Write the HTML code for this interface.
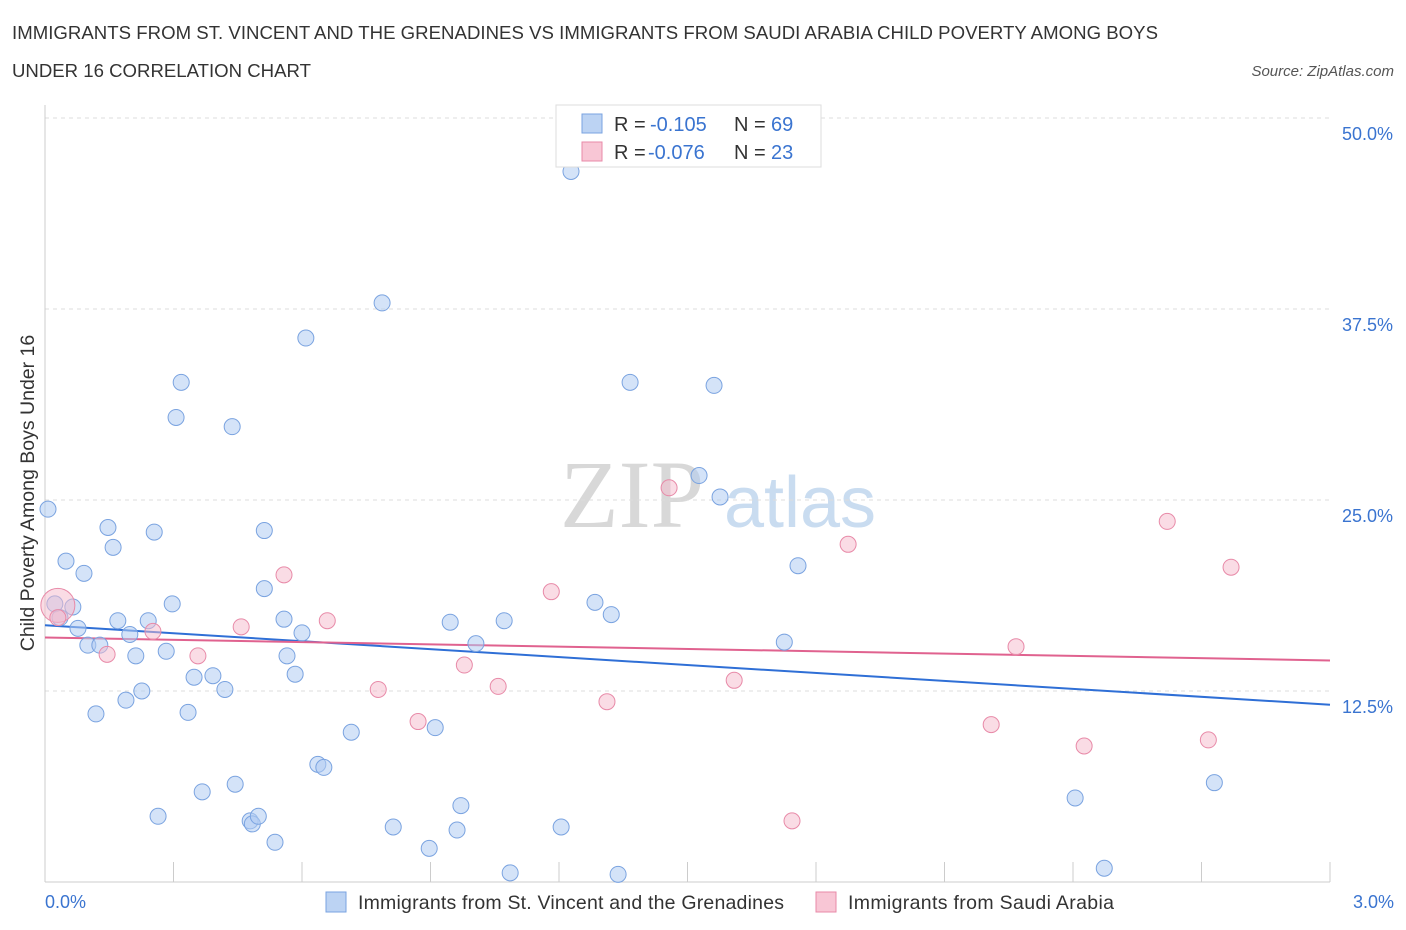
<!DOCTYPE html>
<html><head><meta charset="utf-8"><style>
body{margin:0;background:#fff;width:1406px;height:930px;overflow:hidden;font-family:"Liberation Sans",sans-serif}
svg{position:absolute;left:0;top:0}
</style></head><body>
<svg width="1406" height="930">
<text x="12" y="39" font-size="18.6" fill="#333" textLength="1146">IMMIGRANTS FROM ST. VINCENT AND THE GRENADINES VS IMMIGRANTS FROM SAUDI ARABIA CHILD POVERTY AMONG BOYS</text>
<text x="12" y="77" font-size="18.6" fill="#333">UNDER 16 CORRELATION CHART</text>
<text x="1394" y="76" font-size="15" fill="#555" font-style="italic" text-anchor="end">Source: ZipAtlas.com</text>
<g>
<text x="632" y="527" font-size="96" fill="#d8d8d8" font-family="Liberation Serif,serif" text-anchor="middle">ZIP</text>
<text x="800" y="527" font-size="72" fill="#c9dcf0" text-anchor="middle">atlas</text>
</g>
<g id="grid"></g><g id="axes"></g><g id="lines"></g><g id="pts"></g>
<text x="34" y="493" font-size="19.5" fill="#333" text-anchor="middle" transform="rotate(-90 34 493)">Child Poverty Among Boys Under 16</text>
<text x="45" y="908" font-size="18" fill="#3a74d0">0.0%</text>
<text x="1394" y="908" font-size="18" fill="#3a74d0" text-anchor="end">3.0%</text>
<g>
<rect x="556" y="105" width="265" height="62" fill="#fff" stroke="#ddd"/>
<rect x="582" y="114" width="20" height="19" fill="#bcd3f3" stroke="#7aa3e0"/>
<rect x="582" y="142" width="20" height="19" fill="#f8c6d5" stroke="#e88aa8"/>
<text x="614" y="131" font-size="20" fill="#333">R =</text>
<text x="650" y="131" font-size="20" fill="#3a74d0">-0.105</text>
<text x="734" y="131" font-size="20" fill="#333">N =</text>
<text x="771" y="131" font-size="20" fill="#3a74d0">69</text>
<text x="614" y="159" font-size="20" fill="#333">R =</text>
<text x="648" y="159" font-size="20" fill="#3a74d0">-0.076</text>
<text x="734" y="159" font-size="20" fill="#333">N =</text>
<text x="771" y="159" font-size="20" fill="#3a74d0">23</text>
</g>
<g>
<rect x="326" y="892" width="20" height="20" fill="#bcd3f3" stroke="#7aa3e0"/>
<text x="358" y="909" font-size="19.5" fill="#333" textLength="426">Immigrants from St. Vincent and the Grenadines</text>
<rect x="816" y="892" width="20" height="20" fill="#f8c6d5" stroke="#e88aa8"/>
<text x="848" y="909" font-size="19.5" fill="#333" textLength="266">Immigrants from Saudi Arabia</text>
</g>
</svg>
<script>
const yTicks=[12.5,25,37.5,50];
const xTicks=[0,0.3,0.6,0.9,1.2,1.5,1.8,2.1,2.4,2.7,3.0];
const blueX=[.007,.023,.035,.049,.065,.077,.091,.100,.119,.128,.147,.159,.170,.189,.198,.212,.226,.241,.255,.264,.283,.297,.306,.318,.334,.348,.367,.392,.420,.437,.444,.479,.484,.498,.512,.512,.537,.558,.565,.584,.600,.609,.637,.651,.715,.787,.813,.897,.911,.946,.962,.971,1.006,1.072,1.086,1.205,1.228,1.284,1.322,1.338,1.366,1.527,1.562,1.576,1.726,1.758,2.405,2.473,2.730];
const blueY=[24.4,18.2,17.3,21.0,18.0,16.6,20.2,15.5,11.0,15.5,23.2,21.9,17.1,11.9,16.2,14.8,12.5,17.1,22.9,4.3,15.1,18.2,30.4,32.7,11.1,13.4,5.9,13.5,12.6,29.8,6.4,4.0,3.8,4.3,23.0,19.2,2.6,17.2,14.8,13.6,16.3,35.6,7.7,7.5,9.8,37.9,3.6,2.2,10.1,17.0,3.4,5.0,15.6,17.1,0.6,3.6,46.5,18.3,17.5,0.5,32.7,26.6,32.5,25.2,15.7,20.7,5.5,0.9,6.5];
const pinkX=[.030,.030,.145,.252,.357,.458,.558,.659,.778,.871,.979,1.058,1.182,1.312,1.457,1.609,1.744,1.875,2.209,2.267,2.426,2.620,2.716,2.769];
const pinkY=[18.1,17.3,14.9,16.4,14.8,16.7,20.1,17.1,12.6,10.5,14.2,12.8,19.0,11.8,25.8,13.2,4.0,22.1,10.3,15.4,8.9,23.6,9.3,20.6];
const blueTrend=[16.8,11.6];
const pinkTrend=[16.0,14.5];
const X=v=>45+v/3*1285, Y=v=>882-v/50*764;
const NS='http://www.w3.org/2000/svg';
function mk(p,t,a){const e=document.createElementNS(NS,t);for(const k in a)e.setAttribute(k,a[k]);document.getElementById(p).appendChild(e);return e;}
yTicks.forEach(t=>{
 const l=mk('grid','line',{x1:45,x2:1330,y1:Y(t),y2:Y(t),stroke:'#ddd','stroke-dasharray':'4,4'});
 
 
 const tx=mk('grid','text',{x:1393,y:Y(t)+22,'font-size':18,fill:'#3a74d0','text-anchor':'end'});
 tx.textContent=t.toFixed(1)+'%';
 
 
});
const ax=mk('axes','line',{x1:45,x2:45,y1:105,y2:882,stroke:'#ccc'});


const bx=mk('axes','line',{x1:45,x2:1330,y1:882,y2:882,stroke:'#ccc'});


xTicks.forEach(t=>{
 const l=mk('axes','line',{x1:X(t),x2:X(t),y1:862,y2:882,stroke:'#ccc'});
 
 
});
blueX.forEach((x,i)=>{
 const c=mk('pts','circle',{cx:X(x),cy:Y(blueY[i]),r:8,fill:'rgba(176,204,243,0.55)',stroke:'#7aa3e0','stroke-width':1});
 
 
});
pinkX.forEach((x,i)=>{
 const c=mk('pts','circle',{cx:X(x),cy:Y(pinkY[i]),r:i==0?17:8,fill:'rgba(246,186,204,0.5)',stroke:'#e88aa8','stroke-width':1});
 
 
});
const bl=mk('lines','line',{x1:X(0),x2:X(3),y1:Y(blueTrend[0]),y2:Y(blueTrend[1]),stroke:'#2f6fd6','stroke-width':2});


const pl=mk('lines','line',{x1:X(0),x2:X(3),y1:Y(pinkTrend[0]),y2:Y(pinkTrend[1]),stroke:'#e0628f','stroke-width':2});


</script>
</body></html>
